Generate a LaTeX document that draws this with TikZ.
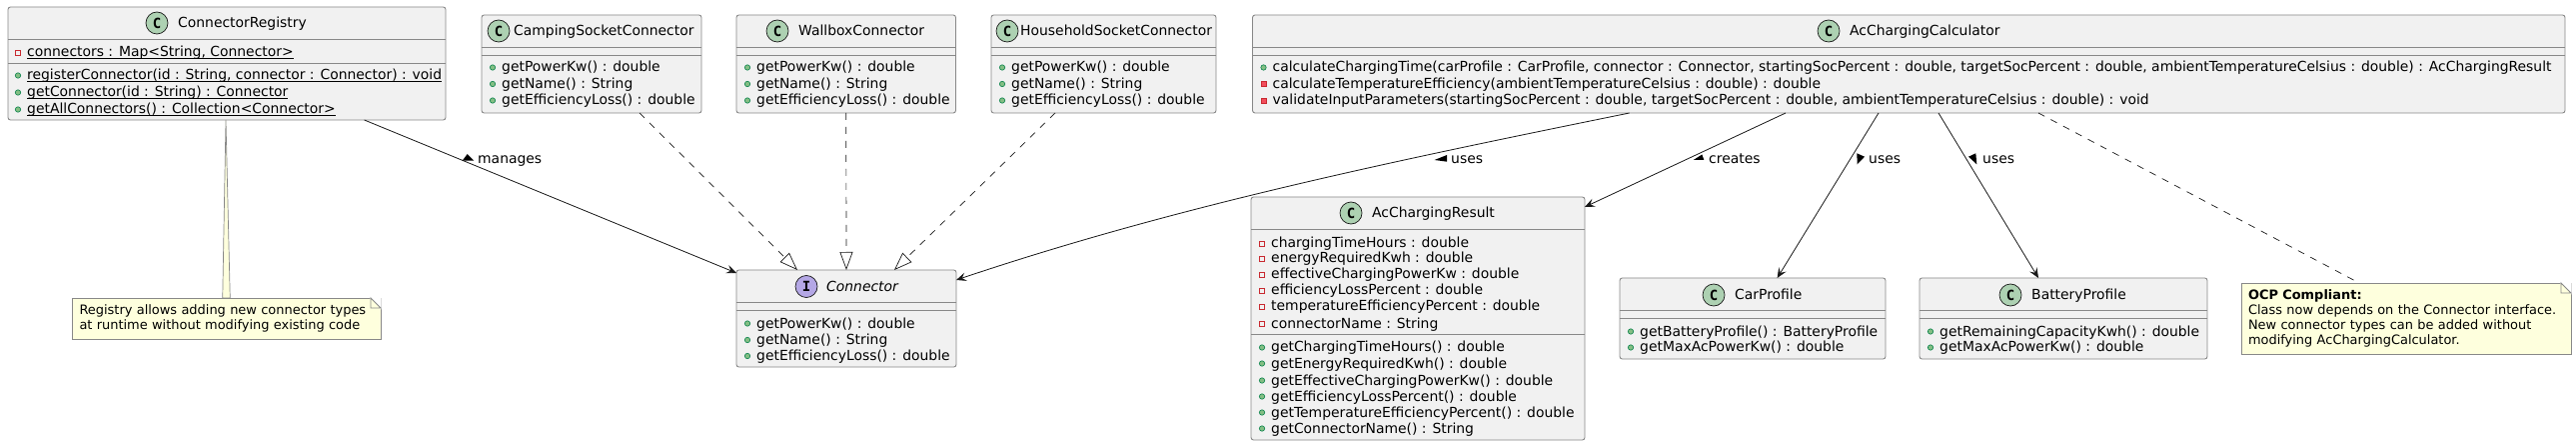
\documentclass[tikz,border=0pt]{standalone}
\usepackage{fontspec}
\setmainfont{DejaVu Sans}
\setmonofont{DejaVu Sans Mono}
\usetikzlibrary{arrows.meta,calc}
\definecolor{boxgrey}{HTML}{888888}
\definecolor{boxfill}{HTML}{F1F1F1}
\definecolor{linedark}{HTML}{181818}
\definecolor{spotclass}{HTML}{ADD1B2}
\definecolor{spotiface}{HTML}{B4A7E5}
\definecolor{notefill}{HTML}{FEFFDD}
\definecolor{pubfill}{HTML}{84BE84}
\definecolor{publine}{HTML}{038048}
\definecolor{privline}{HTML}{C82930}
\definecolor{privfill}{HTML}{F24D5C}
\begin{document}
\begin{tikzpicture}[x=1pt,y=-1pt]

\def\ulrow#1{\setbox0\hbox{#1}\rlap{\vrule width \wd0 height -1.4pt depth 2.4pt}\box0}
\tikzstyle{classbox} = [
	draw=boxgrey, fill=boxfill, rectangle, rounded corners=2.5pt, line width=.9pt,
	anchor=north west, inner sep=0pt, outer sep=0pt ];
\tikzstyle{divider} = [draw=boxgrey, line width=.9pt];
\tikzstyle{spot} = [
	draw=linedark, fill=spotclass, circle, minimum size=22pt, inner sep=0pt,
	line width=.7pt, font=\fontsize{14}{16}\ttfamily\bfseries ];
\tikzstyle{title} = [
	anchor=west, inner sep=0pt, text height=10pt, text depth=0pt,
	font=\fontsize{13.9}{16}\selectfont ];
\tikzstyle{member} = [title];
\tikzstyle{pub} = [member, append after command={\pgfextra{
	\draw[draw=publine, fill=pubfill, line width=.6pt]
		([xshift=-9pt,yshift=-.5pt]\tikzlastnode.west) circle (2.7pt);}}];
\tikzstyle{field} = [member, append after command={\pgfextra{
	\draw[draw=privline, fill=boxfill, line width=.8pt]
		([xshift=-11.5pt,yshift=-3pt]\tikzlastnode.west) rectangle ++(5,-5);}}];
\tikzstyle{priv} = [member, append after command={\pgfextra{
	\draw[draw=privline, fill=privfill, line width=.8pt]
		([xshift=-11.5pt,yshift=-3pt]\tikzlastnode.west) rectangle ++(5,-5);}}];
\tikzstyle{notebox} = [
	draw=boxgrey, fill=notefill, rectangle, line width=.9pt, anchor=north west,
	inner xsep=7pt, inner ysep=0pt, outer sep=0pt, align=left,
	font=\fontsize{12.95}{15}\selectfont ];
\tikzstyle{corner} = [fill=white, draw=white, line width=1.2pt];
\tikzstyle{fold} = [draw=boxgrey, fill=notefill, line width=.9pt];
\tikzstyle{assoc} = [draw=linedark, line width=.8pt,
	-{Stealth[length=10pt,width=8.5pt,inset=4pt]}];
\tikzstyle{realize} = [draw=linedark, line width=.7pt, dash pattern=on 7pt off 7pt,
	-{Triangle[length=18pt,width=13pt,fill=white]}];
\tikzstyle{notelink} = [draw=linedark, line width=.7pt, dash pattern=on 7pt off 7pt];
\tikzstyle{wedge} = [draw=boxgrey, fill=notefill, line width=.7pt];
\tikzstyle{marker} = [fill=black];

\path[fill=white,use as bounding box] (0,0) rectangle (2578,446);

% classes on top
\node[classbox,minimum width=438pt,minimum height=113pt] (registry) at (8,7) {};
\draw[divider] (8,39.5) -- (446,39.5);
\draw[divider] (8,63) -- (446,63);
\node[spot] (registryspot) at (157,23) {C};
\node[title] (registrytitle) at (178,23) {ConnectorRegistry};
\node[field] (registryf1) at (27,52) {\ulrow{connectors : Map<String, Connector>}};
\node[pub] (registrym1) at (27,75) {\ulrow{registerConnector(id : String, connector : Connector) : void}};
\node[pub] (registrym2) at (27,92) {\ulrow{getConnector(id : String) : Connector}};
\node[pub] (registrym3) at (27,109) {\ulrow{getAllConnectors() : Collection<Connector>}};

\node[classbox,minimum width=220pt,minimum height=98pt] (camping) at (482,15) {};
\draw[divider] (482,47) -- (702,47);
\draw[divider] (482,55.5) -- (702,55.5);
\node[spot] (campingspot) at (499,31) {C};
\node[title] (campingtitle) at (514,31) {CampingSocketConnector};
\node[pub] (campingm1) at (502,67) {getPowerKw() : double};
\node[pub] (campingm2) at (502,83.5) {getName() : String};
\node[pub] (campingm3) at (502,100) {getEfficiencyLoss() : double};

\node[classbox,minimum width=219.5pt,minimum height=98pt] (wallbox) at (737,15) {};
\draw[divider] (737,47) -- (956.5,47);
\draw[divider] (737,55.5) -- (956.5,55.5);
\node[spot] (wallboxspot) at (778,31) {C};
\node[title] (wallboxtitle) at (799,31) {WallboxConnector};
\node[pub] (wallboxm1) at (757,67) {getPowerKw() : double};
\node[pub] (wallboxm2) at (757,83.5) {getName() : String};
\node[pub] (wallboxm3) at (757,100) {getEfficiencyLoss() : double};

\node[classbox,minimum width=225pt,minimum height=98pt] (household) at (992,15) {};
\draw[divider] (992,47) -- (1217,47);
\draw[divider] (992,55.5) -- (1217,55.5);
\node[spot] (householdspot) at (1008,31) {C};
\node[title] (householdtitle) at (1021,31) {HouseholdSocketConnector};
\node[pub] (householdm1) at (1012,67) {getPowerKw() : double};
\node[pub] (householdm2) at (1012,83.5) {getName() : String};
\node[pub] (householdm3) at (1012,100) {getEfficiencyLoss() : double};

\node[classbox,minimum width=1313.5pt,minimum height=98pt] (calculator) at (1253.5,15) {};
\draw[divider] (1253.5,47) -- (2567,47);
\draw[divider] (1253.5,55.5) -- (2567,55.5);
\node[spot] (calculatorspot) at (1830,31) {C};
\node[title] (calculatortitle) at (1851,31) {AcChargingCalculator};
\node[pub] (calculatorm1) at (1273.5,67) {calculateChargingTime(carProfile : CarProfile, connector : Connector, startingSocPercent : double, targetSocPercent : double, ambientTemperatureCelsius : double) : AcChargingResult};
\node[priv] (calculatorm2) at (1273.5,83.5) {calculateTemperatureEfficiency(ambientTemperatureCelsius : double) : double};
\node[priv] (calculatorm3) at (1273.5,100) {validateInputParameters(startingSocPercent : double, targetSocPercent : double, ambientTemperatureCelsius : double) : void};

% classes below
\node[classbox,minimum width=220pt,minimum height=97pt] (connector) at (737,270) {};
\draw[divider] (737,302) -- (957,302);
\draw[divider] (737,310) -- (957,310);
\node[spot,fill=spotiface] (connectorspot) at (807,286.5) {I};
\node[title,font=\fontsize{13.9}{16}\itshape] (connectortitle) at (827,286.5) {Connector};
\node[pub] (connectorm1) at (757,323) {getPowerKw() : double};
\node[pub] (connectorm2) at (757,339.5) {getName() : String};
\node[pub] (connectorm3) at (757,355.5) {getEfficiencyLoss() : double};

\node[classbox,minimum width=334pt,minimum height=243pt] (result) at (1252,197) {};
\draw[divider] (1252,229) -- (1586,229);
\draw[divider] (1252,334) -- (1586,334);
\node[spot] (resultspot) at (1352,213) {C};
\node[title] (resulttitle) at (1373,213) {AcChargingResult};
\node[field] (resultf1) at (1272,243) {chargingTimeHours : double};
\node[field] (resultf2) at (1272,258) {energyRequiredKwh : double};
\node[field] (resultf3) at (1272,274) {effectiveChargingPowerKw : double};
\node[field] (resultf4) at (1272,290) {efficiencyLossPercent : double};
\node[field] (resultf5) at (1272,306) {temperatureEfficiencyPercent : double};
\node[field] (resultf6) at (1272,323) {connectorName : String};
\node[pub] (resultm1) at (1272,347) {getChargingTimeHours() : double};
\node[pub] (resultm2) at (1272,363) {getEnergyRequiredKwh() : double};
\node[pub] (resultm3) at (1272,380) {getEffectiveChargingPowerKw() : double};
\node[pub] (resultm4) at (1272,396) {getEfficiencyLossPercent() : double};
\node[pub] (resultm5) at (1272,412) {getTemperatureEfficiencyPercent() : double};
\node[pub] (resultm6) at (1272,428) {getConnectorName() : String};

\node[classbox,minimum width=266pt,minimum height=81pt] (carprofile) at (1621,278) {};
\draw[divider] (1621,310) -- (1887,310);
\draw[divider] (1621,318) -- (1887,318);
\node[spot] (carprofilespot) at (1715,295) {C};
\node[title] (carprofiletitle) at (1736,295) {CarProfile};
\node[pub] (carprofilem1) at (1641,331) {getBatteryProfile() : BatteryProfile};
\node[pub] (carprofilem2) at (1641,347) {getMaxAcPowerKw() : double};

\node[classbox,minimum width=288pt,minimum height=81pt] (batteryprofile) at (1921,278) {};
\draw[divider] (1921,310) -- (2209,310);
\draw[divider] (1921,318) -- (2209,318);
\node[spot] (batteryprofilespot) at (2012,295) {C};
\node[title] (batteryprofiletitle) at (2033,295) {BatteryProfile};
\node[pub] (batteryprofilem1) at (1941,331) {getRemainingCapacityKwh() : double};
\node[pub] (batteryprofilem2) at (1941,347) {getMaxAcPowerKw() : double};

% notes
\node[notebox,minimum width=308.5pt,minimum height=41pt,text width=294.5pt] (noteregistry) at (72.5,298)
	{Registry allows adding new connector types\\at runtime without modifying existing code};
\fill[corner] ([xshift=-10pt]noteregistry.north east) -- (noteregistry.north east)
	-- ([yshift=-10pt]noteregistry.north east) -- cycle;
\draw[fold] ([xshift=-10pt]noteregistry.north east) -- ([xshift=-10pt,yshift=-10pt]noteregistry.north east)
	-- ([yshift=-10pt]noteregistry.north east) -- cycle;
\node[notebox,minimum width=330pt,minimum height=71pt,text width=316pt] (notecalculator) at (2243,283)
	{\textbf{OCP Compliant:}\\Class now depends on the Connector interface.\\New connector types can be added without\\modifying AcChargingCalculator.};
\fill[corner] ([xshift=-10pt]notecalculator.north east) -- (notecalculator.north east)
	-- ([yshift=-10pt]notecalculator.north east) -- cycle;
\draw[fold] ([xshift=-10pt]notecalculator.north east) -- ([xshift=-10pt,yshift=-10pt]notecalculator.north east)
	-- ([yshift=-10pt]notecalculator.north east) -- cycle;

% connectors
\draw[assoc] ([xshift=137.6pt]registry.south) -- ([yshift=-3pt]connector.north west);
\draw[realize] ([xshift=48pt]camping.south) -- ([xshift=-49pt]connector.north);
\draw[realize] (wallbox.south) -- (connector.north);
\draw[realize] ([xshift=-48.5pt]household.south) -- ([xshift=48pt]connector.north);
\draw[assoc] ([xshift=-279.6pt]calculator.south) .. controls (1400,160) and (1180,205) .. ([yshift=-10pt]connector.north east);
\draw[assoc] ([xshift=-123.25pt]calculator.south) -- ([yshift=-10pt]result.north east);
\draw[assoc] ([xshift=-30.25pt]calculator.south) -- ([xshift=24.6pt]carprofile.north);
\draw[assoc] ([xshift=29.75pt]calculator.south) -- ([xshift=-25pt]batteryprofile.north);
\draw[notelink] ([xshift=129.75pt]calculator.south) -- ([xshift=-47pt]notecalculator.north);
\draw[wedge] ([xshift=-1pt]registry.south) -- ([xshift=-4pt]noteregistry.north)
	-- ([xshift=3.5pt]noteregistry.north) -- cycle;

% labels
\fill[marker] (467.7,154) -- (462.7,160.7) -- (474.3,160.7) -- cycle;
\node[title] (labelmanages) at (478,159) {manages};
\fill[marker] (1435.6,160) -- (1448,155) -- (1448,161.7) -- cycle;
\node[title] (labelusesa) at (1452,159) {uses};
\fill[marker] (1694.7,160) -- (1703.3,154.5) -- (1705.3,160) -- cycle;
\node[title] (labelcreates) at (1710,159) {creates};
\fill[marker] (1858.3,153.3) -- (1866,156.7) -- (1858.7,164.3) -- cycle;
\node[title] (labelusesb) at (1870,159) {uses};
\fill[marker] (1977.3,153.3) -- (1970,156.7) -- (1978.3,164.3) -- cycle;
\node[title] (labelusesc) at (1984,159) {uses};

\end{tikzpicture}
\end{document}
